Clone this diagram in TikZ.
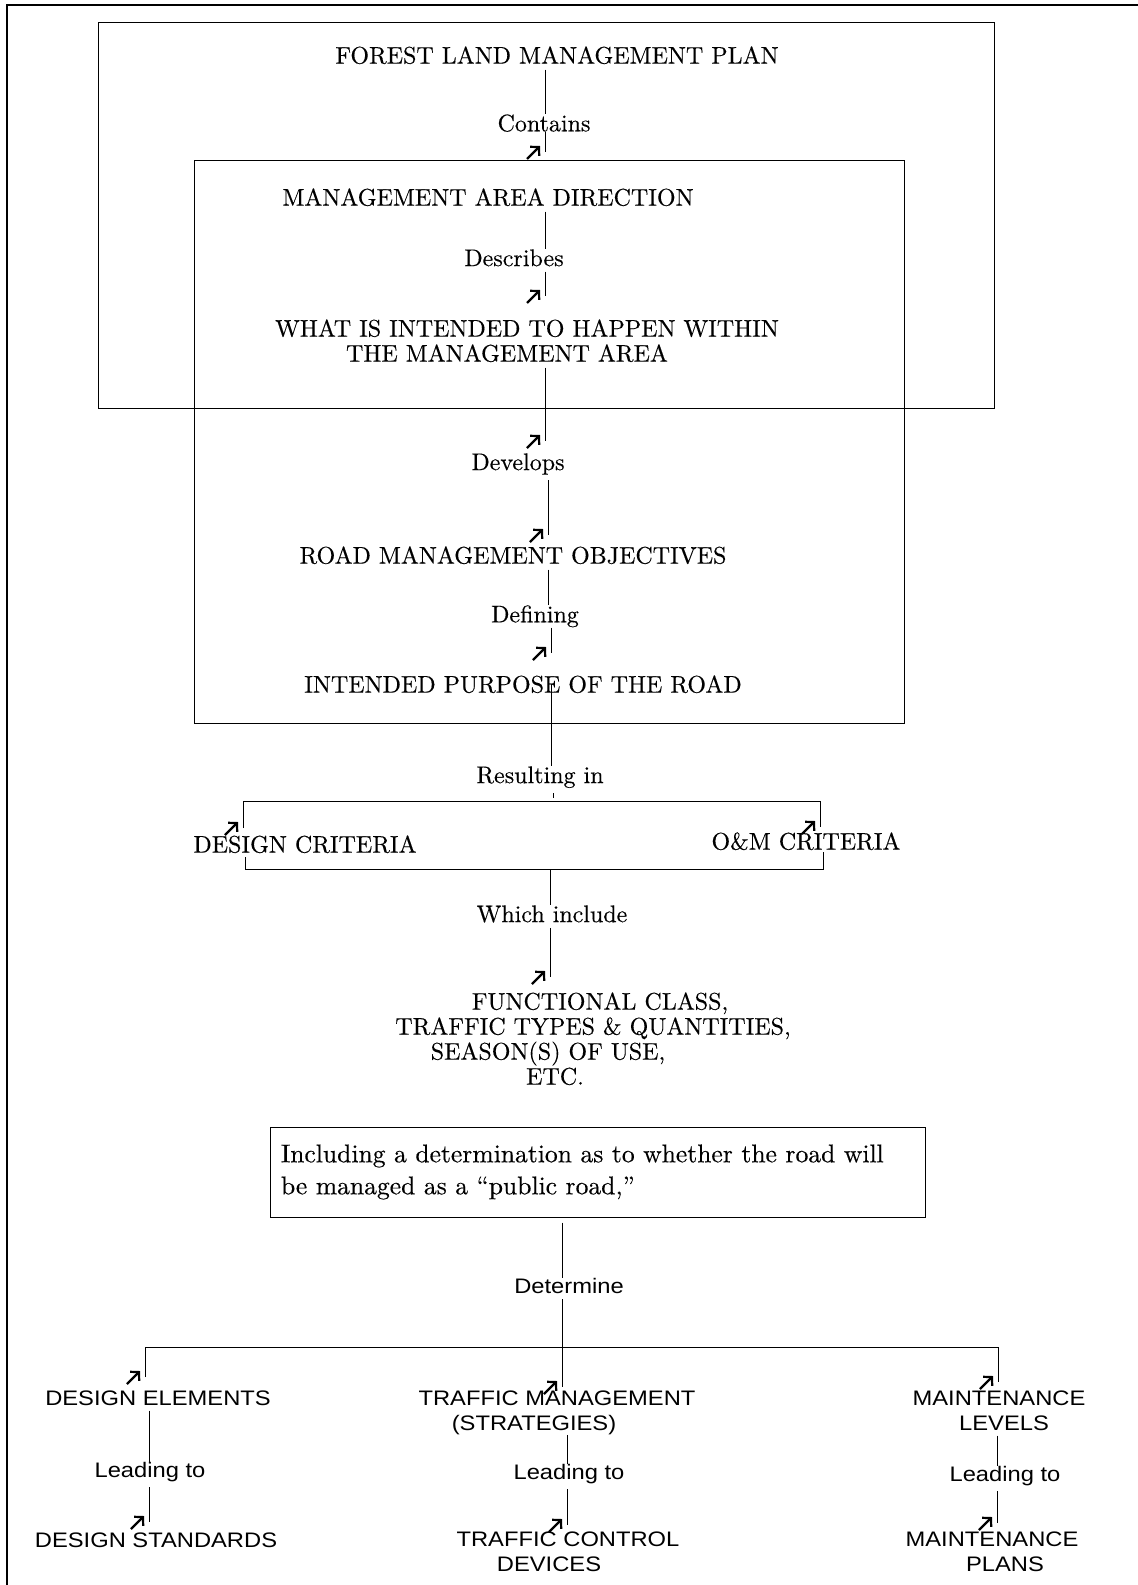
\documentclass[tikz,border=0pt]{standalone}
\usepackage{fontspec}
\setmainfont{lmroman10-regular.otf}[FakeBold=0.3]
\newfontfamily\sansf{Liberation Sans}[FakeStretch=1.13]
\usetikzlibrary{arrows.meta,positioning}

\tikzset{
  txt/.style={inner sep=0pt, anchor=north, align=center, font=\fontsize{12}{12.5}\selectfont},
  sans/.style={txt, font=\sansf\fontsize{10.5}{12.5}\selectfont},
  frame/.style={line width=0.5pt},
  link/.style={line width=0.45pt},
  tail/.style={link, shorten <=2.5pt},
  glyph/.style={line width=1.1pt, -{Straight Barb[length=3pt,width=6.4pt]}},
}
\newcommand{\uparr}[1]{\draw[glyph] ([shift={(-18,7)}]#1) -- ++(13,-13);}

\begin{document}
\begin{tikzpicture}[x=0.5pt, y=-0.5pt]
	\useasboundingbox (0,0) rectangle (1138,1585);
	% page edge and the two plan boxes
	\draw[line width=0.8pt] (7,1585) -- (7,5) -- (1138,5);
	\draw[frame] (98,22) rectangle (994,408);
	\draw[frame] (194,160) rectangle (904,723);

	% upper chain
	\node[txt] (flmp) at (557,46) {FOREST LAND MANAGEMENT PLAN};
	\node[txt] (contains) at (544,114) {Contains};
	\node[txt] (mad) at (488,188) {MANAGEMENT AREA DIRECTION};
	\node[txt] (describes) at (514,249) {Describes};
	\node[txt] (what) at (507,319) {\hspace*{20pt}WHAT IS INTENDED TO HAPPEN WITHIN\\THE MANAGEMENT AREA};
	\node[txt] (develops) at (518,453) {Develops};
	\node[txt] (rmo) at (513,546) {ROAD MANAGEMENT OBJECTIVES};
	\node[txt] (defining) at (535,605) {Defining};
	\node[txt] (ipr) at (523,675) {INTENDED PURPOSE OF THE ROAD};
	\node[txt] (resulting) at (540,766) {Resulting in};
	\node[txt] (dcrit) at (305,835) {DESIGN CRITERIA};
	\node[txt] (omcrit) at (806,832) {O\&M CRITERIA};
	\node[txt] (which) at (552,905) {Which include};
	\node[txt] (func) at (593,992) {\hspace*{7pt}FUNCTIONAL CLASS,\\TRAFFIC TYPES \& QUANTITIES,\\\hspace*{-45pt}SEASON(S) OF USE,\\\hspace*{-38pt}ETC.};
	\node[draw, frame, inner xsep=5.5pt, inner ysep=0pt, minimum width=327.5pt, minimum height=45pt,
		text width=316.5pt, align=left, font=\fontsize{12.8}{16}\selectfont] (det) at (597.5,1172)
		{Including a determination as to whether the road will\\be managed as a “public road,”};

	% lower tree
	\node[sans] (determine) at (569,1278) {Determine};
	\node[sans] (delem) at (158,1390) {DESIGN ELEMENTS};
	\node[sans] (trman) at (557,1390) {TRAFFIC MANAGEMENT\\\hspace*{-23pt}(STRATEGIES)};
	\node[sans] (mlev) at (999,1390) {MAINTENANCE\\\hspace*{5pt}LEVELS};
	\node[sans] (lead1) at (150,1462) {Leading to};
	\node[sans] (lead2) at (569,1464) {Leading to};
	\node[sans] (lead3) at (1005,1466) {Leading to};
	\node[sans] (dstd) at (156,1532) {DESIGN STANDARDS};
	\node[sans] (tcdev) at (568,1531) {TRAFFIC CONTROL\\\hspace*{-19pt}DEVICES};
	\node[sans] (mplan) at (992,1531) {MAINTENANCE\\\hspace*{13pt}PLANS};

	% line positions
	\coordinate (s1) at (545,0);
	\coordinate (s2) at (548,0);
	\coordinate (s3) at (551,0);
	\coordinate (s4) at (562,0);
	\coordinate (c1) at (149,0);
	\coordinate (c2) at (567,0);
	\coordinate (c3) at (997,0);

	% line ends
	\coordinate (e1) at (545,152);
	\coordinate (e2) at (545,296);
	\coordinate (e3) at (545,441);
	\coordinate (e4) at (548,535);
	\coordinate (e5) at (551,653);
	\coordinate (rtop) at (553,801);
	\coordinate (dcl) at (243,828);
	\coordinate (omr) at (820,827);
	\coordinate (rbot) at (550,869);
	\coordinate (dcl2) at (245,857);
	\coordinate (omr2) at (823,852);
	\coordinate (e6) at (550,977);
	\coordinate (e7) at (562,1387);
	\coordinate (hub) at (562,1347);
	\coordinate (e8) at (145,1377);
	\coordinate (e9) at (998,1382);
	\coordinate (e10) at (149,1522);
	\coordinate (e11) at (567,1525);
	\coordinate (e12) at (997,1523);

	\draw[tail] (flmp.south -| s1) -- (contains.north -| s1);
	\draw[link] (contains.south -| s1) -- (e1);
	\draw[tail] (mad.south -| s1) -- (describes.north -| s1);
	\draw[tail] (describes.south -| s1) -- (e2);
	\draw[tail] (what.south -| s1) -- (e3);
	\draw[tail] (develops.south -| s2) -- (e4);
	\draw[tail] (rmo.south -| s2) -- (defining.north -| s2);
	\draw[link] (defining.south -| s3) -- (e5);
	\draw[link] (ipr.center -| s3) -- (resulting.north -| s3);
	\draw[tail] (resulting.south -| rtop) -- ([yshift=1.5pt]rtop);
	\draw[link] (dcl) |- (rtop) -| (omr);
	\draw[link] (dcl2) |- (rbot) -| (omr2);
	\draw[link] (rbot) -- (which.north -| rbot);
	\draw[tail] (which.south -| rbot) -- (e6);
	\draw[tail] (det.south -| s4) -- (determine.north -| s4);
	\draw[tail] (determine.south -| s4) -- (e7);
	\draw[link] (e8) |- (hub) -| (e9);
	\draw[tail] (delem.south -| c1) -- (lead1.north -| c1);
	\draw[tail] (lead1.south -| c1) -- (e10);
	\draw[link] (trman.south -| c2) -- (lead2.north -| c2);
	\draw[tail] (lead2.south -| c2) -- (e11);
	\draw[tail] (mlev.south -| c3) -- (lead3.north -| c3);
	\draw[tail] (lead3.south -| c3) -- (e12);

	% arrow marks
	\foreach \e in {e1,e2,e3,e4,e5,dcl,omr,e6,e7,e8,e9,e10,e11,e12}
		{\uparr{\e}}
\end{tikzpicture}
\end{document}
